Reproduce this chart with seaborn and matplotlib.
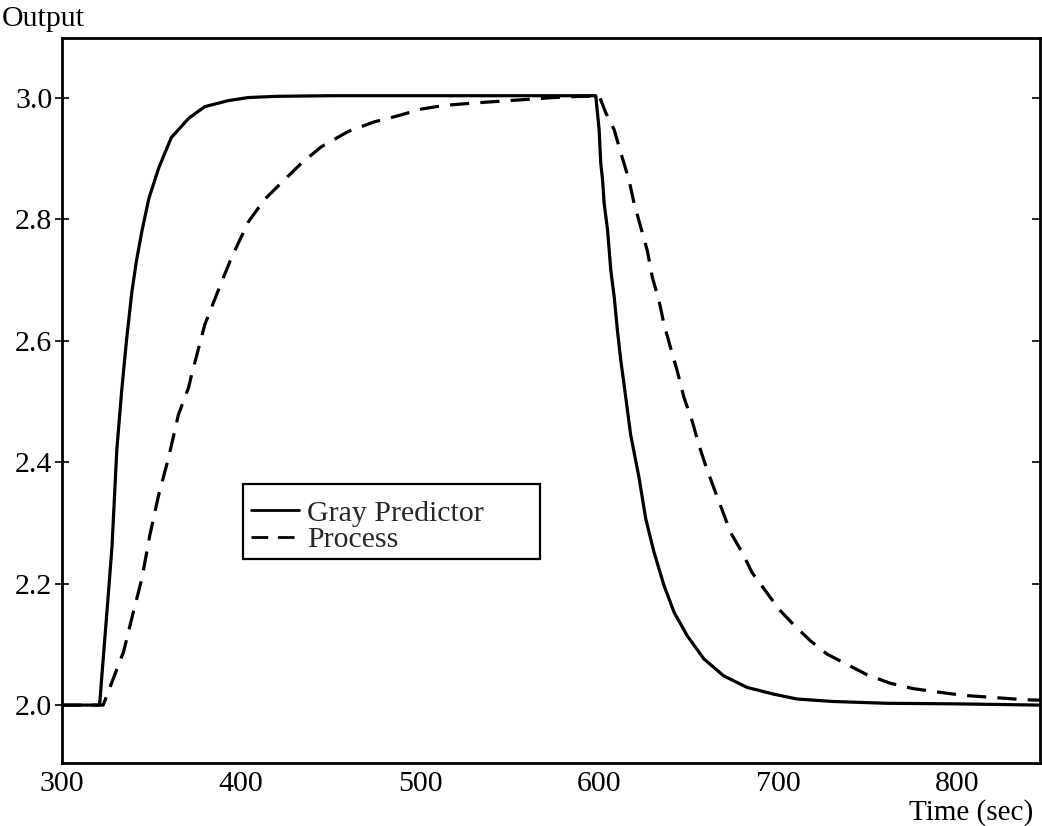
import numpy as np
import pandas as pd
import seaborn as sns
import matplotlib
matplotlib.use("Agg")
import matplotlib.pyplot as plt
import matplotlib.lines as mlines
from matplotlib.patches import Rectangle

# Gray predictor output (time in sec, output value)
gray_t = [300, 321, 322.3, 325, 327.9, 330.6, 333.4, 336, 339, 341.5, 344.6, 348.5,
          354, 361, 370.8, 379.7, 393, 404, 420, 450, 500, 550, 598,
          599.9, 600.8, 601.8, 602.7, 604.6, 606.4, 608.3, 610.1, 612, 613.8,
          617.5, 622.2, 625.9, 630.5, 636.1, 641.7, 649.1, 658.4, 669.5, 682.6,
          697.4, 710.4, 730, 760, 800, 846]
gray_y = [2.0, 2.0, 2.05, 2.15, 2.26, 2.42, 2.52, 2.60, 2.68, 2.73, 2.78, 2.834,
          2.884, 2.934, 2.966, 2.985, 2.995, 3.0, 3.002, 3.003, 3.003, 3.003, 3.003,
          2.947, 2.892, 2.865, 2.826, 2.782, 2.716, 2.672, 2.617, 2.567, 2.528,
          2.445, 2.374, 2.307, 2.252, 2.197, 2.153, 2.114, 2.076, 2.048, 2.029,
          2.018, 2.010, 2.006, 2.003, 2.002, 2.0]

# Process output
proc_t = [300, 323, 327.9, 334.4, 339.9, 344.6, 349, 353.9, 359.4, 365, 370.6, 372.4,
          379.7, 387.3, 394.7, 404, 413, 422.6, 433.7, 444.8, 459.7, 474.4, 487.6,
          500.6, 513.4, 530, 545, 560, 574.6, 590, 600,
          603.6, 608.3, 612, 616.6, 619.4, 623.1, 626.8, 629.6, 633.3, 636.1, 639.8,
          643.5, 647.3, 651.9, 655.6, 659.3, 664, 668.6, 673.3, 679.8, 685.3, 692.8,
          700.2, 708.6, 717.8, 727.1, 738.3, 749.4, 762.4, 775.4, 790.2, 803.2, 818,
          836.7, 846]
proc_y = [2.0, 2.0, 2.038, 2.088, 2.154, 2.208, 2.279, 2.345, 2.406, 2.478, 2.522, 2.544,
          2.626, 2.683, 2.737, 2.795, 2.832, 2.86, 2.892, 2.919, 2.944, 2.96, 2.970,
          2.981, 2.987, 2.991, 2.994, 2.997, 3.0, 3.002, 3.002,
          2.975, 2.947, 2.909, 2.864, 2.826, 2.787, 2.748, 2.704, 2.666, 2.627, 2.588,
          2.55, 2.506, 2.467, 2.428, 2.395, 2.357, 2.321, 2.284, 2.251, 2.218, 2.188,
          2.158, 2.132, 2.106, 2.084, 2.067, 2.05, 2.036, 2.027, 2.021, 2.016, 2.013,
          2.009, 2.008]

series_names = ["Gray Predictor", "Process"]
x_ticks = [300, 400, 500, 600, 700, 800]
y_ticks = [2.0, 2.2, 2.4, 2.6, 2.8, 3.0]

df = pd.concat([
    pd.DataFrame({"t": gray_t, "y": gray_y, "series": series_names[0]}),
    pd.DataFrame({"t": proc_t, "y": proc_y, "series": series_names[1]}),
], ignore_index=True)

sns.set_style("ticks")
plt.rcParams["font.family"] = ["Liberation Serif", "DejaVu Serif"]
plt.rcParams["axes.linewidth"] = 2.0

fig = plt.figure(figsize=(10.42, 8.26), dpi=100)
ax = fig.add_axes([0.0595, 0.0765, 0.9385, 0.8775])

sns.lineplot(data=df, x="t", y="y", style="series", color="black",
             dashes={series_names[0]: "", series_names[1]: (6, 3.5)},
             estimator=None, sort=False, linewidth=2.3, ax=ax)

ax.set_xlim(300, 846)
ax.set_ylim(1.905, 3.098)
ax.set_xticks(x_ticks)
ax.set_xticklabels([str(v) for v in x_ticks])
ax.set_yticks(y_ticks)
ax.set_yticklabels([f"{v:.1f}" for v in y_ticks])
ax.set_xlabel("")
ax.set_ylabel("")

for side in ["top", "right", "bottom", "left"]:
    ax.spines[side].set_visible(True)
    ax.spines[side].set_color("black")
    ax.spines[side].set_linewidth(2.0)

ax.tick_params(axis="y", which="major", direction="inout", length=10, width=1.2,
               labelsize=21.5, left=True, right=True, pad=2, colors="black")
ax.tick_params(axis="x", which="major", length=0, labelsize=21.5, pad=6, colors="black")
# right-hand ticks point inward only
for tk in ax.yaxis.get_major_ticks():
    tk.tick2line.set_marker(mlines.TICKLEFT)
    tk.tick2line.set_markersize(6)

# legend: frameless entries inside a drawn box
box = Rectangle((0.185, 0.281), 0.304, 0.104, transform=ax.transAxes,
                facecolor="white", edgecolor="black", linewidth=1.6, zorder=4)
ax.add_patch(box)
handles, labels = ax.get_legend_handles_labels()
leg = ax.legend(handles, labels, loc="center left", bbox_to_anchor=(0.193, 0.326),
                fontsize=21.5, frameon=False, handlelength=1.6, handletextpad=0.3,
                labelspacing=0.0, borderpad=0, borderaxespad=0)
leg.set_zorder(5)
for line in leg.get_lines():
    line.set_linewidth(2.0)

fig.text(0.002, 0.993, "Output", ha="left", va="top", fontsize=21.5, color="black")
fig.text(0.992, 0.0, "Time (sec)", ha="right", va="bottom", fontsize=21, color="black")

fig.savefig("out.png", dpi=100, facecolor="white")
